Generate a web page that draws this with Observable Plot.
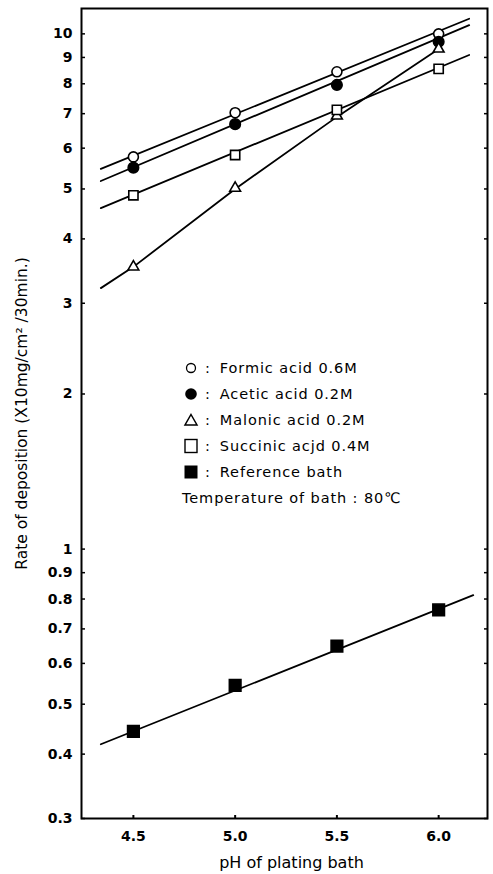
<!DOCTYPE html>
<html><head><meta charset="utf-8">
<script src="https://cdn.jsdelivr.net/npm/d3@7"></script>
<script src="https://cdn.jsdelivr.net/npm/@observablehq/plot@0.6"></script>
<style>
body{margin:0;background:#fff;}
#wrap{position:relative;width:493px;height:874px;}
#legend{position:absolute;left:182px;top:355px;font-family:"DejaVu Sans",sans-serif;font-size:14.5px;letter-spacing:0.9px;color:#000;}
.row{height:26px;display:flex;align-items:center;white-space:nowrap;}
.row svg{width:18px;height:16px;margin-right:5px;}
.colon{margin-right:9px;}
</style></head><body><div id="wrap"><div id="chart"></div><div id="legend"></div></div>
<script>
const phValues = [4.5, 5.0, 5.5, 6.0];
const formic = [5.77, 7.03, 8.44, 10.0];
const acetic = [5.5, 6.68, 7.96, 9.65];
const malonic = [3.53, 5.02, 6.93, 9.35];
const succinic = [4.86, 5.82, 7.12, 8.55];
const reference = [0.443, 0.544, 0.648, 0.762];
const fitX = [4.34, 6.15];
const formicFit = [5.47, 10.7];
const aceticFit = [5.18, 10.4];
const succinicFit = [4.59, 9.1];
const malonicFitX = [4.34, 4.5, 5.0, 5.5, 6.0];
const malonicFit = [3.21, 3.53, 5.0, 6.9, 9.35];
const referenceFitX = [4.34, 6.17];
const referenceFit = [0.418, 0.814];
const yTicks = [0.3, 0.4, 0.5, 0.6, 0.7, 0.8, 0.9, 1, 2, 3, 4, 5, 6, 7, 8, 9, 10];
const xTicks = [4.5, 5.0, 5.5, 6.0];
const seriesNames = ["Formic acid 0.6M", "Acetic acid 0.2M", "Malonic acid 0.2M", "Succinic acjd 0.4M", "Reference bath"];
const tempNote = "Temperature of bath : 80\u2103";
const xLabel = "pH of plating bath";
const yLabel = "Rate of deposition (X10mg/cm\u00b2 /30min.)";

const pts = (vals) => phValues.map((x, i) => ({x, y: vals[i]}));
const fit = (xs, ys, s) => xs.map((x, i) => ({x, y: ys[i], s}));
const lines = [
  ...fit(fitX, formicFit, "f"), ...fit(fitX, aceticFit, "a"),
  ...fit(fitX, succinicFit, "s"), ...fit(malonicFitX, malonicFit, "m"),
  ...fit(referenceFitX, referenceFit, "r")
];
const font = "DejaVu Sans";
const chart = Plot.plot({
  width: 493, height: 874,
  marginLeft: 81, marginRight: 6, marginTop: 8, marginBottom: 56,
  style: {fontFamily: font, background: "#fff", color: "#000"},
  x: {domain: [4.245, 6.24]},
  y: {type: "log", domain: [0.3, 11.2]},
  marks: [
    Plot.line(lines, {x: "x", y: "y", z: "s", stroke: "#000", strokeWidth: 1.8}),
    Plot.dot(pts(formic), {x: "x", y: "y", symbol: "circle", r: 5, fill: "#fff", stroke: "#000", strokeWidth: 1.6}),
    Plot.dot(pts(acetic), {x: "x", y: "y", symbol: "circle", r: 5.3, fill: "#000", stroke: "#000"}),
    Plot.dot(pts(malonic), {x: "x", y: "y", symbol: "triangle", r: 4, fill: "#fff", stroke: "#000", strokeWidth: 1.6}),
    Plot.dot(pts(succinic), {x: "x", y: "y", symbol: "square", r: 5.2, fill: "#fff", stroke: "#000", strokeWidth: 1.6}),
    Plot.dot(pts(reference), {x: "x", y: "y", symbol: "square", r: 6.6, fill: "#000", stroke: "#000"}),
    Plot.frame({stroke: "#000", strokeWidth: 2}),
    Plot.axisY(yTicks, {anchor: "left", tickSize: 0, tickPadding: 9, label: null, fontSize: 14, fontWeight: "bold", tickFormat: d => String(d)}),
    Plot.axisY(yTicks, {anchor: "left", tickSize: -4, fill: "none", label: null, strokeWidth: 1.5}),
    Plot.axisY(yTicks, {anchor: "right", tickSize: -4, fill: "none", label: null, strokeWidth: 1.5}),
    Plot.axisX(xTicks, {anchor: "bottom", tickSize: 0, tickPadding: 13, label: null, fontSize: 14, fontWeight: "bold", tickFormat: d => d.toFixed(1)}),
    Plot.axisX(xTicks, {anchor: "bottom", tickSize: -3, fill: "none", label: null, strokeWidth: 2}),
    Plot.text([yLabel], {frameAnchor: "left", textAnchor: "middle", dx: -59, rotate: -90, fontSize: 15.5, text: d => d, fill: "#000"}),
    Plot.text([xLabel], {frameAnchor: "bottom", textAnchor: "middle", dx: 7, dy: 49, fontSize: 16, text: d => d, fill: "#000"})
  ]
});
document.getElementById("chart").appendChild(chart);

const symbols = [
  '<circle cx="9" cy="8" r="4.5" fill="#fff" stroke="#000" stroke-width="1.3"/>',
  '<circle cx="9" cy="8" r="5.8" fill="#000"/>',
  '<path d="M9 2.5 L15 13 L3 13 Z" fill="#fff" stroke="#000" stroke-width="1.5"/>',
  '<rect x="3" y="1.5" width="12" height="13" fill="#fff" stroke="#000" stroke-width="1.4"/>',
  '<rect x="2.5" y="1.5" width="13" height="13" fill="#000"/>'
];
const legend = document.getElementById("legend");
seriesNames.forEach((name, i) => {
  const row = document.createElement("div");
  row.className = "row";
  row.innerHTML = `<svg viewBox="0 0 18 16">${symbols[i]}</svg><span class="colon">:</span><span>${name}</span>`;
  legend.appendChild(row);
});
const t = document.createElement("div");
t.className = "row";
t.textContent = tempNote;
legend.appendChild(t);
</script>
</body></html>
